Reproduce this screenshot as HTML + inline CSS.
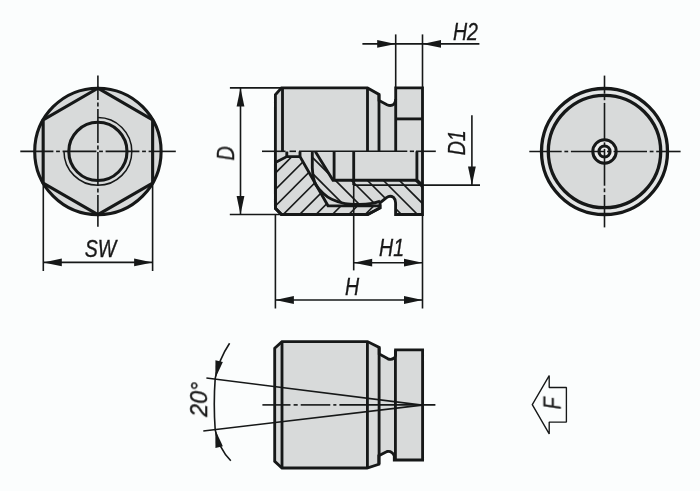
<!DOCTYPE html><html><head><meta charset="utf-8"><style>html,body{margin:0;padding:0;background:#fbfdfd;}svg{display:block;}</style></head><body><svg width="700" height="491" viewBox="0 0 700 491" stroke="#161818" stroke-linecap="butt" stroke-linejoin="miter" fill="none"><defs><clipPath id="cpL"><path d="M275.4 162.5 L286.8 156.6 L300 156.6 L328 205.8 L380 205.8 L380 208 L367.6 214.5 L281.5 214.5 L275.4 208.3 Z"/></clipPath><clipPath id="cpR"><path d="M312.3 151.4 L312.3 168  C312.45 169.42 312.62 173.72 313.2 176.5 C313.78 179.28 314.15 181.92 315.8 184.7 C317.45 187.48 320.45 190.77 323.1 193.2 C325.75 195.63 328.05 197.57 331.7 199.3 C335.35 201.03 340.40 202.75 345 203.6 C349.60 204.45 354.78 204.43 359.3 204.4 C363.82 204.37 368.65 203.93 372.1 203.4 C375.55 202.87 378.68 201.57 380 201.2 L380 202.8 L386.5 197.6 Q390 195 393.5 197.4 Q395.6 199.3 395.6 203 L395.6 214.5 L422.5 214.5 L422.5 185.1 L416.9 180.2 L333 180.2 L315.3 151.4 Z"/></clipPath></defs><circle cx="97.9" cy="151.4" r="63.2" fill="#d8dada" stroke-width="3.1"/>
<path d="M97.9 88.2 L152.63 119.8 L152.63 183.0 L97.9 214.6 L43.17 183.0 L43.17 119.8 Z" fill="none" stroke-width="3.1" />
<circle cx="97.9" cy="151.4" r="29.1" fill="none" stroke-width="3.1"/>
<path d="M97.9 117.5 A33.9 33.9 0 1 1 64.0 151.4" fill="none" stroke-width="1.5" />
<line x1="20.3" y1="151.4" x2="53.4" y2="151.4" stroke-width="1.6"/>
<line x1="56.1" y1="151.4" x2="59.9" y2="151.4" stroke-width="1.6"/>
<line x1="62.6" y1="151.4" x2="96.4" y2="151.4" stroke-width="1.6"/>
<line x1="99.1" y1="151.4" x2="102.9" y2="151.4" stroke-width="1.6"/>
<line x1="105.6" y1="151.4" x2="139.4" y2="151.4" stroke-width="1.6"/>
<line x1="142.1" y1="151.4" x2="145.9" y2="151.4" stroke-width="1.6"/>
<line x1="148.6" y1="151.4" x2="175.8" y2="151.4" stroke-width="1.6"/>
<line x1="97.9" y1="75.5" x2="97.9" y2="99.9" stroke-width="1.6"/>
<line x1="97.9" y1="102.6" x2="97.9" y2="106.4" stroke-width="1.6"/>
<line x1="97.9" y1="109.1" x2="97.9" y2="142.9" stroke-width="1.6"/>
<line x1="97.9" y1="145.6" x2="97.9" y2="149.4" stroke-width="1.6"/>
<line x1="97.9" y1="152.1" x2="97.9" y2="185.9" stroke-width="1.6"/>
<line x1="97.9" y1="188.6" x2="97.9" y2="192.4" stroke-width="1.6"/>
<line x1="97.9" y1="195.1" x2="97.9" y2="226.7" stroke-width="1.6"/>
<line x1="43.3" y1="184" x2="43.3" y2="271" stroke-width="1.6"/>
<line x1="152.6" y1="184" x2="152.6" y2="271" stroke-width="1.6"/>
<line x1="43.3" y1="262.4" x2="152.6" y2="262.4" stroke-width="1.6"/>
<path d="M43.30 262.40 L61.80 258.50 L61.80 266.30 Z" fill="#161818" stroke="none"/>
<path d="M152.60 262.40 L134.10 266.30 L134.10 258.50 Z" fill="#161818" stroke="none"/>
<path d="M275.4 94.7 L281.5 87.9 L367.5 87.9 L379 94.4 L379 100.5 L387 104.7 Q391 106.6 394 104.2 Q395.7 102.2 395.7 99 L395.7 87.9 L422.5 87.9 L422.5 214.5 L395.6 214.5 L395.6 203 Q395.6 199.3 393.5 197.4 Q390 195 386.5 197.6 L380 202.8 L380 208 L367.6 214.5 L281.5 214.5 L275.4 208.3 Z" fill="#d8dada" stroke-width="2.85" />
<g clip-path="url(#cpL)">
<line x1="270" y1="145.7" x2="390" y2="25.7" stroke-width="1.6"/>
<line x1="270" y1="162.1" x2="390" y2="42.1" stroke-width="1.6"/>
<line x1="270" y1="178.5" x2="390" y2="58.5" stroke-width="1.6"/>
<line x1="270" y1="194.9" x2="390" y2="74.9" stroke-width="1.6"/>
<line x1="270" y1="211.3" x2="390" y2="91.3" stroke-width="1.6"/>
<line x1="270" y1="227.7" x2="390" y2="107.7" stroke-width="1.6"/>
<line x1="270" y1="244.1" x2="390" y2="124.1" stroke-width="1.6"/>
<line x1="270" y1="260.5" x2="390" y2="140.5" stroke-width="1.6"/>
<line x1="270" y1="276.9" x2="390" y2="156.9" stroke-width="1.6"/>
<line x1="270" y1="293.3" x2="390" y2="173.3" stroke-width="1.6"/>
<line x1="270" y1="309.7" x2="390" y2="189.7" stroke-width="1.6"/>
<line x1="270" y1="326.1" x2="390" y2="206.1" stroke-width="1.6"/>
</g>
<g clip-path="url(#cpR)">
<line x1="300" y1="17.0" x2="430" y2="147.0" stroke-width="1.6"/>
<line x1="300" y1="33.0" x2="430" y2="163.0" stroke-width="1.6"/>
<line x1="300" y1="49.0" x2="430" y2="179.0" stroke-width="1.6"/>
<line x1="300" y1="65.0" x2="430" y2="195.0" stroke-width="1.6"/>
<line x1="300" y1="81.0" x2="430" y2="211.0" stroke-width="1.6"/>
<line x1="300" y1="97.0" x2="430" y2="227.0" stroke-width="1.6"/>
<line x1="300" y1="113.0" x2="430" y2="243.0" stroke-width="1.6"/>
<line x1="300" y1="129.0" x2="430" y2="259.0" stroke-width="1.6"/>
<line x1="300" y1="145.0" x2="430" y2="275.0" stroke-width="1.6"/>
<line x1="300" y1="161.0" x2="430" y2="291.0" stroke-width="1.6"/>
<line x1="300" y1="177.0" x2="430" y2="307.0" stroke-width="1.6"/>
<line x1="300" y1="193.0" x2="430" y2="323.0" stroke-width="1.6"/>
<line x1="300" y1="209.0" x2="430" y2="339.0" stroke-width="1.6"/>
</g>
<path d="M275.4 162.5 L286.8 156.6 L300 156.6 L328 205.8 L380 205.8 L380 208 L367.6 214.5 L281.5 214.5 L275.4 208.3 Z" fill="none" stroke-width="2.85" stroke-miterlimit="3"/>
<path d="M312.3 151.4 L312.3 168  C312.45 169.42 312.62 173.72 313.2 176.5 C313.78 179.28 314.15 181.92 315.8 184.7 C317.45 187.48 320.45 190.77 323.1 193.2 C325.75 195.63 328.05 197.57 331.7 199.3 C335.35 201.03 340.40 202.75 345 203.6 C349.60 204.45 354.78 204.43 359.3 204.4 C363.82 204.37 368.65 203.93 372.1 203.4 C375.55 202.87 378.68 201.57 380 201.2" fill="none" stroke-width="2.85" />
<path d="M315.3 151.4 L333 180.2 L416.9 180.2 L422.5 185.1" fill="none" stroke-width="2.85" />
<line x1="334.1" y1="151.4" x2="334.1" y2="180.2" stroke-width="2.85"/>
<line x1="353.7" y1="151.4" x2="353.7" y2="185.1" stroke-width="2.85"/>
<line x1="416.9" y1="151.4" x2="416.9" y2="180.2" stroke-width="2.85"/>
<path d="M286.8 151.4 L286.8 156.6 M300 151.4 L300 156.6" fill="none" stroke-width="2.85" />
<line x1="282.5" y1="87.9" x2="282.5" y2="151.4" stroke-width="2.85"/>
<line x1="367.5" y1="87.9" x2="367.5" y2="151.4" stroke-width="2.85"/>
<line x1="379" y1="94.4" x2="379" y2="151.4" stroke-width="2.85"/>
<line x1="395.7" y1="99" x2="395.7" y2="151.4" stroke-width="2.85"/>
<line x1="395.7" y1="118.9" x2="422.5" y2="118.9" stroke-width="2.85"/>
<line x1="353.7" y1="185.1" x2="480" y2="185.1" stroke-width="1.6"/>
<line x1="262.0" y1="151.3" x2="285.5" y2="151.3" stroke-width="1.6"/>
<line x1="289.5" y1="151.3" x2="296.0" y2="151.3" stroke-width="1.6"/>
<line x1="299.0" y1="151.3" x2="407.3" y2="151.3" stroke-width="1.6"/>
<line x1="409.8" y1="151.3" x2="414.0" y2="151.3" stroke-width="1.6"/>
<line x1="416.0" y1="151.3" x2="435.8" y2="151.3" stroke-width="1.6"/>
<line x1="229.9" y1="87.9" x2="281.5" y2="87.9" stroke-width="1.6"/>
<line x1="229.8" y1="214.5" x2="281.3" y2="214.5" stroke-width="1.6"/>
<line x1="240.5" y1="87.9" x2="240.5" y2="214.5" stroke-width="1.6"/>
<path d="M240.50 87.90 L244.40 106.40 L236.60 106.40 Z" fill="#161818" stroke="none"/>
<path d="M240.50 214.50 L236.60 196.00 L244.40 196.00 Z" fill="#161818" stroke="none"/>
<line x1="395.7" y1="34.4" x2="395.7" y2="87.9" stroke-width="1.6"/>
<line x1="422.5" y1="34.4" x2="422.5" y2="87.9" stroke-width="1.6"/>
<line x1="362.4" y1="43.9" x2="479.4" y2="43.9" stroke-width="1.6"/>
<path d="M395.70 43.90 L377.20 47.80 L377.20 40.00 Z" fill="#161818" stroke="none"/>
<path d="M422.50 43.90 L441.00 40.00 L441.00 47.80 Z" fill="#161818" stroke="none"/>
<line x1="471.9" y1="115.3" x2="471.9" y2="185.1" stroke-width="1.6"/>
<path d="M471.90 185.10 L468.00 166.60 L475.80 166.60 Z" fill="#161818" stroke="none"/>
<line x1="353.7" y1="185.1" x2="353.7" y2="270.4" stroke-width="1.6"/>
<line x1="422.5" y1="214.5" x2="422.5" y2="308.5" stroke-width="1.6"/>
<line x1="353.7" y1="262.7" x2="422.5" y2="262.7" stroke-width="1.6"/>
<path d="M353.70 262.70 L372.20 258.80 L372.20 266.60 Z" fill="#161818" stroke="none"/>
<path d="M422.50 262.70 L404.00 266.60 L404.00 258.80 Z" fill="#161818" stroke="none"/>
<line x1="275.4" y1="214.5" x2="275.4" y2="308.5" stroke-width="1.6"/>
<line x1="275.4" y1="300" x2="422.5" y2="300" stroke-width="1.6"/>
<path d="M275.40 300.00 L293.90 296.10 L293.90 303.90 Z" fill="#161818" stroke="none"/>
<path d="M422.50 300.00 L404.00 303.90 L404.00 296.10 Z" fill="#161818" stroke="none"/>
<circle cx="604.5" cy="151.5" r="63" fill="#e4e6e6" stroke-width="3.3"/>
<circle cx="604.5" cy="151.5" r="56.2" fill="#d8dada" stroke-width="3.3"/>
<circle cx="604.5" cy="151.5" r="11.7" fill="#ececec" stroke="none"/>
<line x1="529.3" y1="151.5" x2="561.7" y2="151.5" stroke-width="1.6"/>
<line x1="564.4" y1="151.5" x2="568.2" y2="151.5" stroke-width="1.6"/>
<line x1="570.9" y1="151.5" x2="604.35" y2="151.5" stroke-width="1.6"/>
<line x1="607.05" y1="151.5" x2="610.85" y2="151.5" stroke-width="1.6"/>
<line x1="613.55" y1="151.5" x2="647.0" y2="151.5" stroke-width="1.6"/>
<line x1="649.7" y1="151.5" x2="653.5" y2="151.5" stroke-width="1.6"/>
<line x1="656.2" y1="151.5" x2="680.6" y2="151.5" stroke-width="1.6"/>
<line x1="604.5" y1="75.6" x2="604.5" y2="93.7" stroke-width="1.6"/>
<line x1="604.5" y1="96.4" x2="604.5" y2="100.2" stroke-width="1.6"/>
<line x1="604.5" y1="102.9" x2="604.5" y2="139.7" stroke-width="1.6"/>
<line x1="604.5" y1="142.4" x2="604.5" y2="146.2" stroke-width="1.6"/>
<line x1="604.5" y1="148.9" x2="604.5" y2="185.7" stroke-width="1.6"/>
<line x1="604.5" y1="188.4" x2="604.5" y2="192.2" stroke-width="1.6"/>
<line x1="604.5" y1="194.9" x2="604.5" y2="227.4" stroke-width="1.6"/>
<circle cx="604.5" cy="151.5" r="11.7" fill="none" stroke-width="3"/>
<circle cx="604.5" cy="151.5" r="5.5" fill="none" stroke-width="3.2"/>
<path d="M274.7 348.3 L282 341.6 L367.5 341.6 L379.2 347.5 L379.2 354 L387.5 358.6 Q391 360.2 393.8 358.3 Q395.6 357 395.6 355 L395.6 349.9 L422.6 349.9 L422.6 460 L394.3 460 L394.3 456 Q392 450.5 387 451.5 L378.8 455.7 L378.8 464.3 L367.1 468 L282 468 L274.7 461.4 Z" fill="#d8dada" stroke-width="2.85" />
<line x1="282" y1="341.6" x2="282" y2="468" stroke-width="2.85"/>
<line x1="367.4" y1="341.6" x2="367.4" y2="468" stroke-width="2.85"/>
<line x1="379.1" y1="347.5" x2="379.1" y2="464.3" stroke-width="2.85"/>
<line x1="395.4" y1="349.9" x2="395.4" y2="460" stroke-width="2.85"/>
<line x1="262.4" y1="404.9" x2="290.5" y2="404.9" stroke-width="1.6"/>
<line x1="293.6" y1="404.9" x2="297.7" y2="404.9" stroke-width="1.6"/>
<line x1="300.7" y1="404.9" x2="330.3" y2="404.9" stroke-width="1.6"/>
<line x1="333.3" y1="404.9" x2="336.4" y2="404.9" stroke-width="1.6"/>
<line x1="339.4" y1="404.9" x2="435.4" y2="404.9" stroke-width="1.6"/>
<line x1="206.4" y1="378" x2="422" y2="405.1" stroke-width="1.6"/>
<line x1="203.3" y1="431" x2="422" y2="405.1" stroke-width="1.6"/>
<path d="M229.6 343.3 Q218.5 360 215.2 378.4 C214 395 214 413 215.2 429.8 Q218.5 448 230.8 460.8" fill="none" stroke-width="1.6" />
<path d="M215.30 378.20 L215.45 360.29 L222.86 361.97 Z" fill="#161818" stroke="none"/>
<path d="M215.30 430.00 L222.86 446.23 L215.45 447.91 Z" fill="#161818" stroke="none"/>
<path d="M532.3 404.7 L549.2 375.6 L549.2 387.5 L566.4 387.5 L566.4 422.1 L549.2 422.1 L549.2 433.9 Z" fill="#fbfdfd" stroke-width="1.35" stroke-miterlimit="1.2"/><g style="filter:grayscale(1)"><text transform="translate(100.5 257) rotate(0) scale(0.8 1)" font-family="Liberation Sans" font-style="italic" font-size="24.5" text-anchor="middle" fill="#161818" stroke="#161818" stroke-width="0.35">SW</text><text transform="translate(234 153.4) rotate(-90) scale(0.8 1)" font-family="Liberation Sans" font-style="italic" font-size="24.5" text-anchor="middle" fill="#161818" stroke="#161818" stroke-width="0.35">D</text><text transform="translate(465.4 39.5) rotate(0) scale(0.8 1)" font-family="Liberation Sans" font-style="italic" font-size="24.5" text-anchor="middle" fill="#161818" stroke="#161818" stroke-width="0.35">H2</text><text transform="translate(464.8 142.8) rotate(-90) scale(0.8 1)" font-family="Liberation Sans" font-style="italic" font-size="24.5" text-anchor="middle" fill="#161818" stroke="#161818" stroke-width="0.35">D1</text><text transform="translate(391.5 256.3) rotate(0) scale(0.8 1)" font-family="Liberation Sans" font-style="italic" font-size="24.5" text-anchor="middle" fill="#161818" stroke="#161818" stroke-width="0.35">H1</text><text transform="translate(352 294.8) rotate(0) scale(0.8 1)" font-family="Liberation Sans" font-style="italic" font-size="24.5" text-anchor="middle" fill="#161818" stroke="#161818" stroke-width="0.35">H</text><text transform="translate(207.1 399.3) rotate(-90) scale(0.95 1)" font-family="Liberation Sans" font-style="italic" font-size="24.3" text-anchor="middle" fill="#161818" stroke="#161818" stroke-width="0.35">20°</text><text transform="translate(560.6 403.4) rotate(-90) scale(0.8 1)" font-family="Liberation Sans" font-style="italic" font-size="24.5" text-anchor="middle" fill="#161818" stroke="#161818" stroke-width="0.35">F</text></g></svg></body></html>
